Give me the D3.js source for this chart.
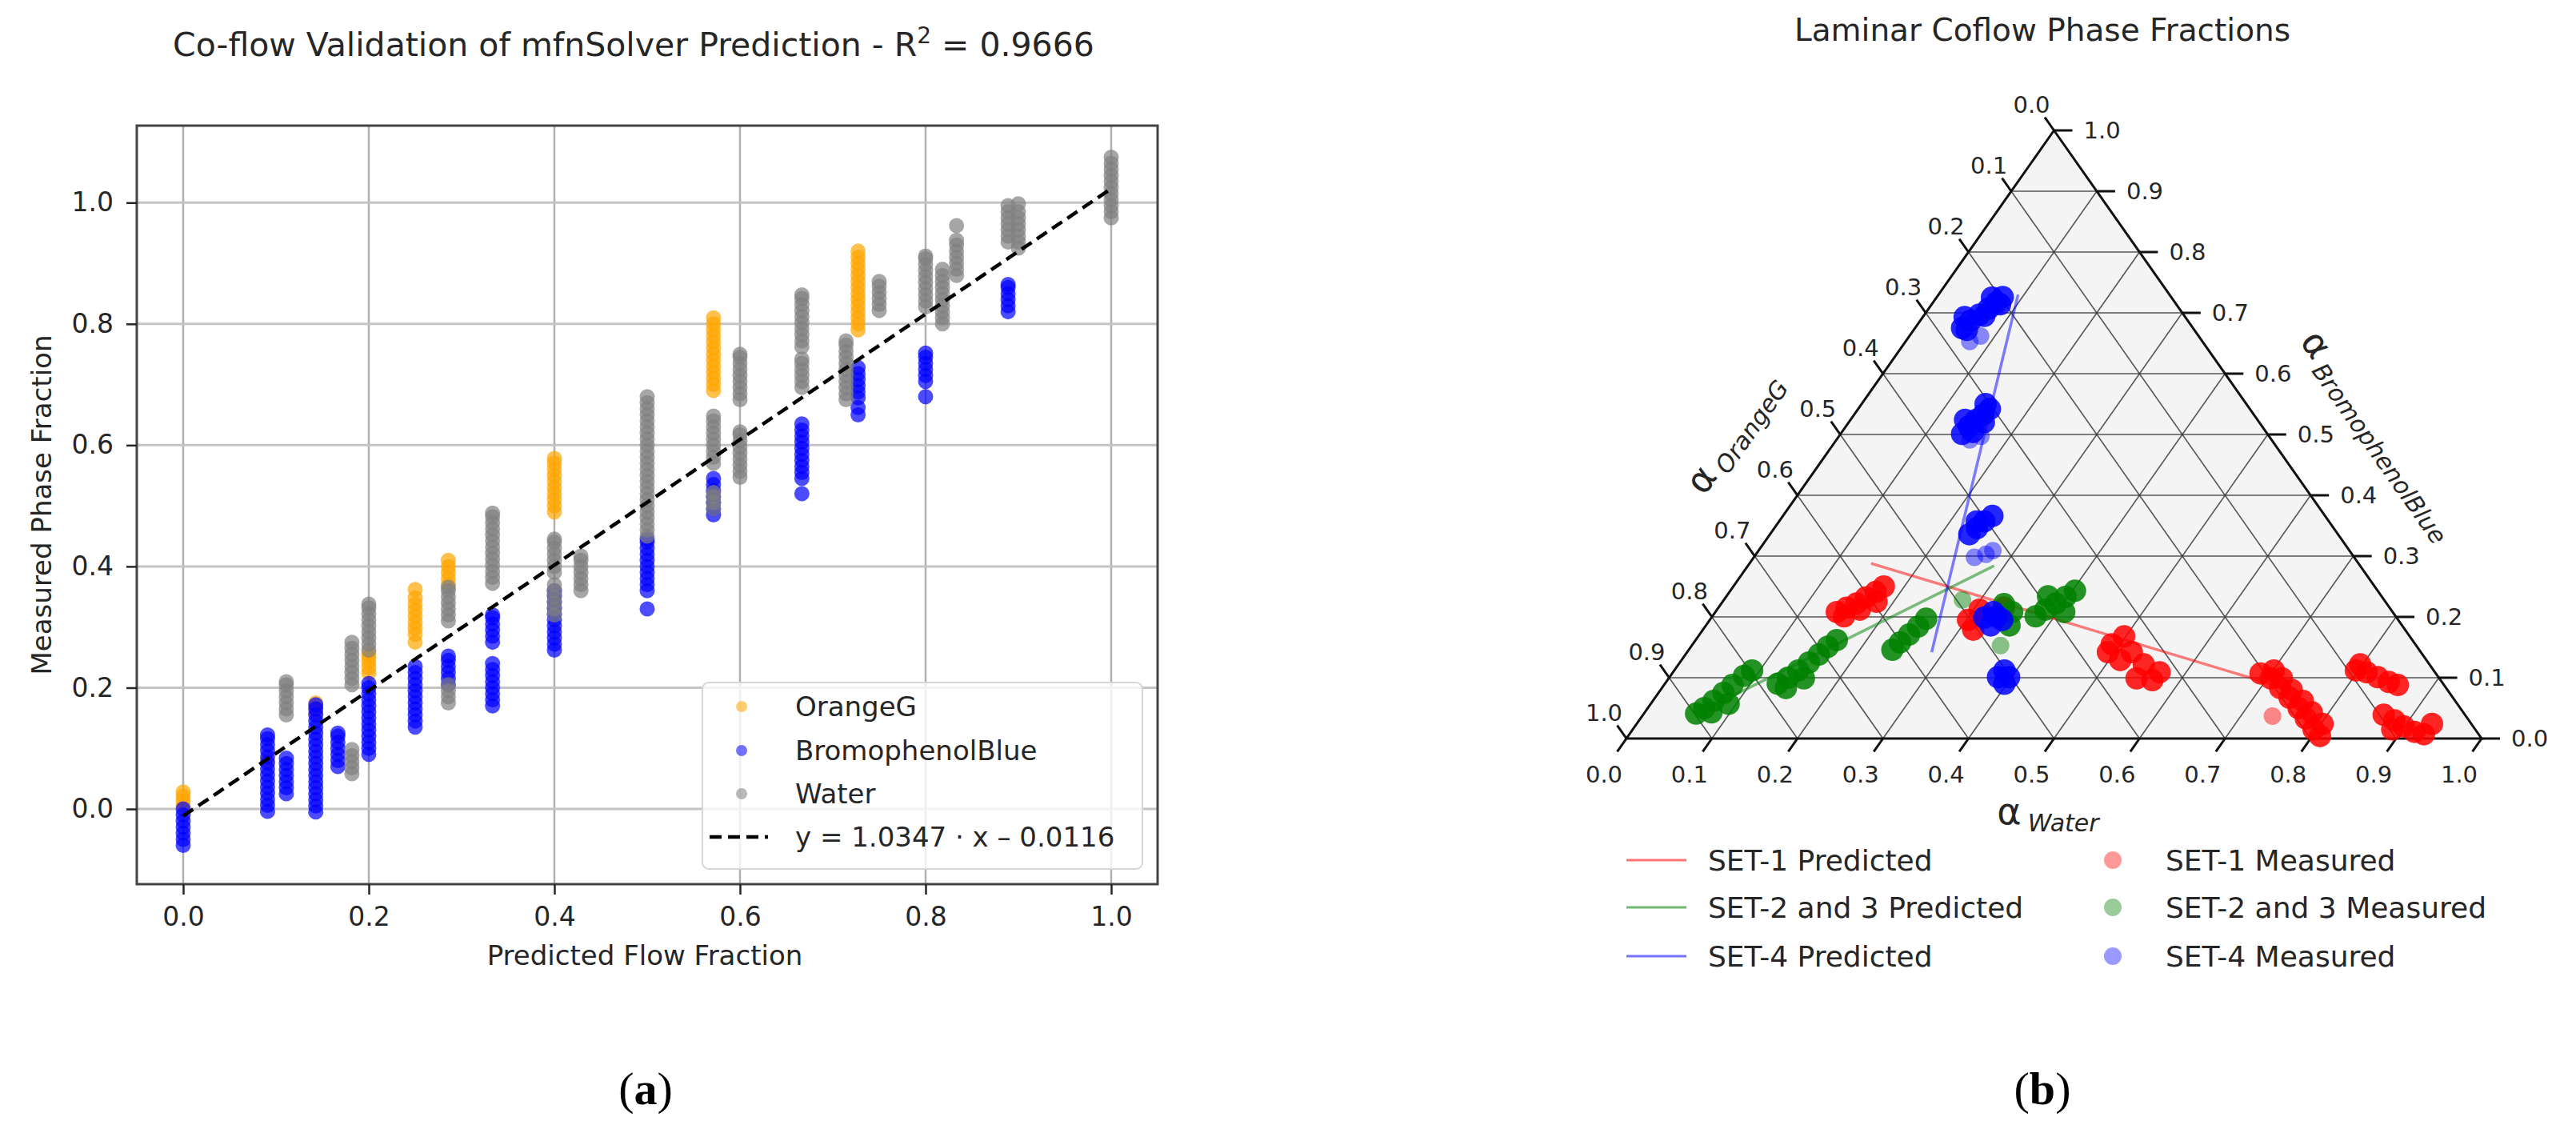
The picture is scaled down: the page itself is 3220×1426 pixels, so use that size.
<!DOCTYPE html>
<html>
<head>
<meta charset="utf-8">
<script src="https://cdn.jsdelivr.net/npm/d3@7"></script>
<style>
  body { margin: 0; background: #fff; }
  text { font-family: "DejaVu Sans", sans-serif; fill: #262626; }
</style>
</head>
<body>
<script>
// ---------- panel (a): measured vs predicted, one entry per predicted flow fraction ----------
// [predicted fraction, [measured phase fractions]]
var orangeG = [
  [0, [0.005, 0.013, 0.021, 0.028]],
  [1 / 11, [0.08]],
  [1 / 7, [0.158, 0.166, 0.175]],
  [0.2, [0.224, 0.233, 0.242, 0.25, 0.256]],
  [0.25, [0.275, 0.288, 0.298, 0.308, 0.318, 0.328, 0.338, 0.348, 0.362]],
  [2 / 7, [0.37, 0.38, 0.39, 0.40, 0.41]],
  [0.4, [0.49, 0.5, 0.51, 0.52, 0.53, 0.54, 0.55, 0.56, 0.57, 0.578]],
  [4 / 7, [0.69, 0.70, 0.71, 0.72, 0.73, 0.74, 0.75, 0.76, 0.77, 0.78, 0.79, 0.80, 0.81]],
  [8 / 11, [0.79, 0.80, 0.81, 0.82, 0.83, 0.84, 0.85, 0.86, 0.87, 0.88, 0.89, 0.90, 0.91, 0.92]]
];
var bromophenolBlue = [
  [0, [0.0, -0.01, -0.02, -0.03, -0.04, -0.05, -0.06]],
  [1 / 11, [-0.004, 0.006, 0.016, 0.026, 0.036, 0.046, 0.056, 0.066, 0.076, 0.086, 0.096, 0.106, 0.116, 0.122]],
  [1 / 9, [0.025, 0.035, 0.045, 0.055, 0.065, 0.075, 0.084]],
  [1 / 7, [-0.005, 0.005, 0.015, 0.025, 0.035, 0.045, 0.055, 0.065, 0.075, 0.085, 0.095, 0.105, 0.115,
           0.125, 0.135, 0.145, 0.155, 0.165, 0.172]],
  [1 / 6, [0.07, 0.08, 0.09, 0.1, 0.11, 0.12, 0.125]],
  [0.2, [0.09, 0.1, 0.11, 0.12, 0.13, 0.14, 0.15, 0.16, 0.17, 0.18, 0.19, 0.2, 0.207]],
  [0.25, [0.135, 0.145, 0.155, 0.165, 0.175, 0.185, 0.195, 0.205, 0.215, 0.225, 0.235]],
  [2 / 7, [0.205, 0.215, 0.225, 0.235, 0.245, 0.252]],
  [1 / 3, [0.275, 0.285, 0.295, 0.305, 0.315, 0.32, 0.17, 0.18, 0.19, 0.2, 0.21, 0.22, 0.23, 0.24]],
  [0.4, [0.262, 0.272, 0.282, 0.292, 0.302, 0.312, 0.322, 0.332, 0.342, 0.352, 0.36]],
  [0.5, [0.36, 0.37, 0.38, 0.39, 0.40, 0.41, 0.42, 0.43, 0.44, 0.445, 0.33]],
  [4 / 7, [0.485, 0.495, 0.505, 0.515, 0.525, 0.535, 0.545]],
  [2 / 3, [0.545, 0.555, 0.565, 0.575, 0.585, 0.595, 0.605, 0.615, 0.625, 0.635, 0.52]],
  [8 / 11, [0.678, 0.688, 0.698, 0.708, 0.718, 0.728, 0.662, 0.65]],
  [0.8, [0.705, 0.715, 0.725, 0.735, 0.745, 0.752, 0.68]],
  [8 / 9, [0.82, 0.83, 0.84, 0.85, 0.86, 0.865]]
];
var water = [
  [1 / 9, [0.155, 0.165, 0.175, 0.185, 0.195, 0.205, 0.21]],
  [2 / 11, [0.205, 0.215, 0.225, 0.235, 0.245, 0.255, 0.265, 0.275, 0.058, 0.068, 0.078, 0.088, 0.098]],
  [0.2, [0.262, 0.272, 0.282, 0.292, 0.302, 0.312, 0.322, 0.332, 0.338]],
  [2 / 7, [0.31, 0.32, 0.33, 0.34, 0.35, 0.36, 0.366, 0.175, 0.185, 0.195, 0.205]],
  [1 / 3, [0.372, 0.382, 0.392, 0.402, 0.412, 0.422, 0.432, 0.442, 0.452, 0.462, 0.472, 0.482, 0.488]],
  [0.4, [0.32, 0.33, 0.34, 0.35, 0.36, 0.37, 0.39, 0.40, 0.41, 0.42, 0.43, 0.44, 0.445]],
  [3 / 7, [0.36, 0.37, 0.38, 0.39, 0.40, 0.41, 0.417]],
  [0.5, [0.45, 0.46, 0.47, 0.48, 0.49, 0.50, 0.51, 0.52, 0.53, 0.54, 0.55, 0.56, 0.57, 0.58, 0.59,
         0.60, 0.61, 0.62, 0.63, 0.64, 0.65, 0.66, 0.67, 0.68]],
  [4 / 7, [0.57, 0.58, 0.59, 0.60, 0.61, 0.62, 0.63, 0.64, 0.648, 0.495, 0.505, 0.515, 0.522]],
  [0.6, [0.675, 0.685, 0.695, 0.705, 0.715, 0.725, 0.735, 0.745, 0.75,
         0.547, 0.557, 0.567, 0.577, 0.587, 0.597, 0.607, 0.617, 0.622]],
  [2 / 3, [0.695, 0.705, 0.715, 0.725, 0.735, 0.742, 0.762, 0.772, 0.782, 0.792, 0.802, 0.812, 0.822,
           0.832, 0.842, 0.848]],
  [5 / 7, [0.675, 0.685, 0.695, 0.705, 0.715, 0.725, 0.735, 0.745, 0.755, 0.765, 0.772]],
  [0.75, [0.822, 0.832, 0.842, 0.852, 0.862, 0.87]],
  [0.8, [0.828, 0.838, 0.848, 0.858, 0.868, 0.878, 0.888, 0.898, 0.908, 0.912]],
  [9 / 11, [0.8, 0.81, 0.82, 0.83, 0.84, 0.85, 0.86, 0.87, 0.88, 0.89]],
  [5 / 6, [0.88, 0.89, 0.90, 0.91, 0.92, 0.93, 0.938, 0.962]],
  [8 / 9, [0.935, 0.945, 0.955, 0.965, 0.975, 0.985, 0.995]],
  [0.9, [0.925, 0.935, 0.945, 0.955, 0.965, 0.975, 0.985, 0.998]],
  [1, [0.975, 0.985, 0.995, 1.005, 1.015, 1.025, 1.035, 1.045, 1.055, 1.065, 1.075]]
];
var seriesNames = ["OrangeG", "BromophenolBlue", "Water"];
var fitSlope = 1.0347, fitIntercept = -0.0116, fitRange = [0, 1];
var xTicks = [0, 0.2, 0.4, 0.6, 0.8, 1.0];
var yTicks = [0, 0.2, 0.4, 0.6, 0.8, 1.0];

// ---------- panel (b): ternary, points as [alpha Water, alpha BromophenolBlue] ----------
var set1Predicted = [[0.142, 0.288], [0.728, 0.083]];
var set23Predicted = [[0.064, 0.043], [0.288, 0.284]];
var set4Predicted = [[0.286, 0.142], [0.093, 0.730]];
var set1Measured = [
  [0.142, 0.208], [0.150, 0.215], [0.158, 0.222], [0.164, 0.232], [0.171, 0.241], [0.176, 0.25],
  [0.154, 0.201], [0.167, 0.212], [0.180, 0.225],
  [0.302, 0.195], [0.316, 0.179], [0.307, 0.212], [0.334, 0.215],
  [0.490, 0.155], [0.498, 0.168], [0.520, 0.142], [0.513, 0.129], [0.544, 0.122], [0.567, 0.096],
  [0.569, 0.109], [0.547, 0.099], [0.492, 0.142],
  [0.688, 0.107], [0.704, 0.099], [0.723, 0.083], [0.742, 0.067], [0.761, 0.05], [0.778, 0.033],
  [0.796, 0.015], [0.809, 0.004], [0.701, 0.112],
  [0.717, 0.099], [0.738, 0.080], [0.760, 0.062], [0.780, 0.043], [0.802, 0.024],
  [0.797, 0.112], [0.811, 0.109], [0.828, 0.101], [0.845, 0.093], [0.858, 0.088], [0.797, 0.122],
  [0.866, 0.039], [0.883, 0.030], [0.899, 0.020], [0.916, 0.011], [0.929, 0.007], [0.888, 0.015], [0.930, 0.024]
];
var set1Outliers = [[0.737, 0.037]];
var set23Measured = [
  [0.061, 0.041], [0.066, 0.05], [0.071, 0.062], [0.076, 0.075], [0.080, 0.088], [0.086, 0.103],
  [0.091, 0.112], [0.078, 0.043], [0.091, 0.057],
  [0.132, 0.090], [0.139, 0.1], [0.145, 0.112], [0.151, 0.125], [0.156, 0.138], [0.160, 0.151],
  [0.165, 0.162], [0.145, 0.083], [0.158, 0.099],
  [0.238, 0.146], [0.241, 0.158], [0.245, 0.171], [0.249, 0.184], [0.252, 0.197],
  [0.347, 0.208], [0.355, 0.186], [0.331, 0.221],
  [0.378, 0.201], [0.384, 0.212], [0.391, 0.222], [0.397, 0.233], [0.403, 0.243], [0.376, 0.234], [0.408, 0.208]
];
var set23Outliers = [[0.279, 0.228], [0.361, 0.153]];
var set4Measured = [
  [0.055, 0.675], [0.059, 0.687], [0.064, 0.697], [0.070, 0.707], [0.074, 0.717], [0.077, 0.726],
  [0.062, 0.672], [0.071, 0.695], [0.080, 0.714], [0.049, 0.693], [0.065, 0.725],
  [0.142, 0.501], [0.144, 0.513], [0.147, 0.524], [0.151, 0.533], [0.154, 0.542], [0.153, 0.504],
  [0.158, 0.520], [0.134, 0.524], [0.145, 0.55],
  [0.233, 0.336], [0.237, 0.346], [0.240, 0.357], [0.245, 0.366], [0.231, 0.357],
  [0.319, 0.199], [0.325, 0.208], [0.342, 0.195], [0.333, 0.186], [0.333, 0.201],
  [0.384, 0.101], [0.397, 0.101], [0.386, 0.112], [0.397, 0.090]
];
var set4Outliers = [[0.075, 0.653], [0.083, 0.662], [0.156, 0.491], [0.166, 0.497],
  [0.258, 0.298], [0.269, 0.303], [0.274, 0.309]];
var ternTicks = [0, 0.1, 0.2, 0.3, 0.4, 0.5, 0.6, 0.7, 0.8, 0.9, 1.0];
var legendLabelsB = ["SET-1 Predicted", "SET-2 and 3 Predicted", "SET-4 Predicted",
                     "SET-1 Measured", "SET-2 and 3 Measured", "SET-4 Measured"];

var svg = d3.select("body").append("svg").attr("width", 3220).attr("height", 1426);
var fmt = d3.format(".1f");

function flat(arr) {
  var out = [];
  arr.forEach(function(c) {
    c[1].forEach(function(v) { out.push([c[0], v]); });
  });
  return out;
}

// ===================== panel (a) =====================
var box = { left: 171, right: 1447, top: 157, bottom: 1105 };
var x = d3.scaleLinear().domain([-0.05, 1.05]).range([box.left, box.right]);
var y = d3.scaleLinear().domain([-0.124, 1.127]).range([box.bottom, box.top]);
var colorsA = ["#ffa500", "#0000ff", "#808080"];
var gA = svg.append("g");

// grid
gA.selectAll(".vgrid").data(xTicks).enter().append("line")
  .attr("x1", function(d) { return x(d); }).attr("x2", function(d) { return x(d); })
  .attr("y1", box.top).attr("y2", box.bottom)
  .attr("stroke", "#b0b0b0").attr("stroke-width", 2.5);
gA.selectAll(".hgrid").data(yTicks).enter().append("line")
  .attr("y1", function(d) { return y(d); }).attr("y2", function(d) { return y(d); })
  .attr("x1", box.left).attr("x2", box.right)
  .attr("stroke", "#c4c4c4").attr("stroke-width", 3);

// scatter
[orangeG, bromophenolBlue, water].forEach(function(s, i) {
  gA.append("g").selectAll("circle").data(flat(s)).enter().append("circle")
    .attr("cx", function(d) { return x(d[0]); })
    .attr("cy", function(d) { return y(d[1]); })
    .attr("r", 9.5)
    .attr("fill", colorsA[i])
    .attr("fill-opacity", 0.7);
});

// fit line
gA.append("line")
  .attr("x1", x(fitRange[0])).attr("y1", y(fitSlope * fitRange[0] + fitIntercept))
  .attr("x2", x(fitRange[1])).attr("y2", y(fitSlope * fitRange[1] + fitIntercept))
  .attr("stroke", "#000").attr("stroke-width", 4.5).attr("stroke-dasharray", "15,8");

// frame
gA.append("rect")
  .attr("x", box.left).attr("y", box.top)
  .attr("width", box.right - box.left).attr("height", box.bottom - box.top)
  .attr("fill", "none").attr("stroke", "#444").attr("stroke-width", 3);

// axes
var xAxis = gA.append("g").attr("transform", "translate(0," + box.bottom + ")")
  .call(d3.axisBottom(x).tickValues(xTicks).tickFormat(fmt).tickSize(13).tickSizeOuter(0).tickPadding(16));
var yAxis = gA.append("g").attr("transform", "translate(" + box.left + ",0)")
  .call(d3.axisLeft(y).tickValues(yTicks).tickFormat(fmt).tickSize(13).tickSizeOuter(0).tickPadding(16));
[xAxis, yAxis].forEach(function(a) {
  a.select(".domain").remove();
  a.attr("font-size", 33).attr("font-family", "DejaVu Sans").attr("color", "#262626");
  a.selectAll(".tick line").attr("stroke-width", 2.5);
});

gA.append("text").attr("x", 806).attr("y", 1206).attr("text-anchor", "middle")
  .attr("font-size", 34).text("Predicted Flow Fraction");
gA.append("text").attr("transform", "translate(64,631) rotate(-90)").attr("text-anchor", "middle")
  .attr("font-size", 34).text("Measured Phase Fraction");

var titleA = gA.append("text").attr("x", 792).attr("y", 70).attr("text-anchor", "middle").attr("font-size", 41);
titleA.append("tspan").text("Co-flow Validation of mfnSolver Prediction - R");
titleA.append("tspan").attr("font-size", 28).attr("dy", -16).text("2");
titleA.append("tspan").attr("dy", 16).text(" = 0.9666");

// legend (a)
var legA = gA.append("g");
legA.append("rect").attr("x", 878).attr("y", 853).attr("width", 550).attr("height", 233).attr("rx", 8)
  .attr("fill", "#fff").attr("fill-opacity", 0.8).attr("stroke", "#d5d5d5").attr("stroke-width", 2);
var legRowsA = [883, 938, 992, 1046];
seriesNames.forEach(function(n, i) {
  legA.append("circle").attr("cx", 927).attr("cy", legRowsA[i]).attr("r", 7)
    .attr("fill", colorsA[i]).attr("fill-opacity", 0.55);
  legA.append("text").attr("x", 994).attr("y", legRowsA[i] + 12).attr("font-size", 34).text(n);
});
legA.append("line").attr("x1", 887).attr("x2", 960).attr("y1", legRowsA[3]).attr("y2", legRowsA[3])
  .attr("stroke", "#000").attr("stroke-width", 4.5).attr("stroke-dasharray", "15,8");
legA.append("text").attr("x", 994).attr("y", legRowsA[3] + 12).attr("font-size", 34)
  .text("y = " + fitSlope + " \u00b7 x \u2013 " + Math.abs(fitIntercept));

// ===================== panel (b) =====================
var tx = d3.scaleLinear().domain([0, 1]).range([2033, 3102]);
var ty = d3.scaleLinear().domain([0, 1]).range([923, 163]);
function proj(p) { return [tx(p[0] + p[1] / 2), ty(p[1])]; }
var line = d3.line();
var gB = svg.append("g");

// triangle background
var corners = [[0, 0], [1, 0], [0, 1]];
gB.append("path").attr("d", line(corners.map(proj)) + "Z").attr("fill", "#f4f4f4");

// grid lines every 0.1 in the three directions
var inner = ternTicks.slice(1, -1);
var gridSegs = [];
inner.forEach(function(t) {
  gridSegs.push([[0, t], [1 - t, t]]);       // constant BromophenolBlue
  gridSegs.push([[t, 0], [t, 1 - t]]);       // constant Water
  gridSegs.push([[1 - t, 0], [0, 1 - t]]);   // constant OrangeG
});
gB.append("g").selectAll("path").data(gridSegs).enter().append("path")
  .attr("d", function(d) { return line(d.map(proj)); })
  .attr("stroke", "#3a3a3a").attr("stroke-opacity", 0.85).attr("stroke-width", 1.6).attr("fill", "none");

// border
gB.append("path").attr("d", line(corners.map(proj)) + "Z")
  .attr("fill", "none").attr("stroke", "#111").attr("stroke-width", 3);

// ticks + tick labels
var gT = gB.append("g").attr("font-size", 29);
ternTicks.forEach(function(t) {
  var pb = proj([t, 0]);          // bottom: Water
  gT.append("line").attr("x1", pb[0]).attr("y1", pb[1]).attr("x2", pb[0] - 11.5).attr("y2", pb[1] + 16.4)
    .attr("stroke", "#111").attr("stroke-width", 3);
  gT.append("text").attr("x", pb[0] - 28).attr("y", pb[1] + 45).attr("dy", "0.35em")
    .attr("text-anchor", "middle").text(fmt(t));
  var pr = proj([1 - t, t]);      // right: BromophenolBlue
  gT.append("line").attr("x1", pr[0]).attr("y1", pr[1]).attr("x2", pr[0] + 23).attr("y2", pr[1])
    .attr("stroke", "#111").attr("stroke-width", 3);
  gT.append("text").attr("x", pr[0] + 37).attr("y", pr[1]).attr("dy", "0.35em").text(fmt(t));
  var pl = proj([0, 1 - t]);      // left: OrangeG
  gT.append("line").attr("x1", pl[0]).attr("y1", pl[1]).attr("x2", pl[0] - 11.5).attr("y2", pl[1] - 16.4)
    .attr("stroke", "#111").attr("stroke-width", 3);
  gT.append("text").attr("x", pl[0] - 28).attr("y", pl[1] - 32).attr("dy", "0.35em")
    .attr("text-anchor", "middle").text(fmt(t));
});

// axis labels
function alphaLabel(g, sub) {
  var t = g.append("text").attr("text-anchor", "middle");
  t.append("tspan").attr("font-size", 46).text("\u03b1");
  t.append("tspan").attr("font-size", 30).attr("font-style", "italic").attr("dx", 8).attr("dy", 9).text(sub);
  return t;
}
alphaLabel(gB.append("g").attr("transform", "translate(2560,1030)"), "Water");
alphaLabel(gB.append("g").attr("transform", "translate(2180,550) rotate(-54.9)"), "OrangeG");
alphaLabel(gB.append("g").attr("transform", "translate(2962,552) rotate(54.9)"), "BromophenolBlue");

gB.append("text").attr("x", 2553).attr("y", 51).attr("text-anchor", "middle").attr("font-size", 39)
  .text("Laminar Coflow Phase Fractions");

// predicted lines
var colorsB = ["#ff0000", "#008000", "#0000ff"];
[set1Predicted, set23Predicted, set4Predicted].forEach(function(s, i) {
  gB.append("path").attr("d", line(s.map(proj))).attr("fill", "none")
    .attr("stroke", colorsB[i]).attr("stroke-opacity", 0.5).attr("stroke-width", 3.5);
});
// measured points: dense clusters, then isolated points
[[set1Measured, set1Outliers], [set23Measured, set23Outliers], [set4Measured, set4Outliers]].forEach(function(s, i) {
  var g = gB.append("g").attr("fill", colorsB[i]);
  g.selectAll(".pt").data(s[0]).enter().append("circle")
    .attr("cx", function(d) { return proj(d)[0]; })
    .attr("cy", function(d) { return proj(d)[1]; })
    .attr("r", 14).attr("fill-opacity", 0.85);
  g.selectAll(".out").data(s[1]).enter().append("circle")
    .attr("cx", function(d) { return proj(d)[0]; })
    .attr("cy", function(d) { return proj(d)[1]; })
    .attr("r", 11).attr("fill-opacity", 0.45);
});

// legend (b)
var legRowsB = [1075, 1134, 1195];
var legB = gB.append("g").attr("font-size", 36);
legendLabelsB.forEach(function(lbl, i) {
  var row = legRowsB[i % 3], c = colorsB[i % 3];
  if (i < 3) {
    legB.append("line").attr("x1", 2033).attr("x2", 2108).attr("y1", row).attr("y2", row)
      .attr("stroke", c).attr("stroke-opacity", 0.55).attr("stroke-width", 3);
    legB.append("text").attr("x", 2135).attr("y", row + 13).text(lbl);
  } else {
    legB.append("circle").attr("cx", 2641).attr("cy", row).attr("r", 11)
      .attr("fill", c).attr("fill-opacity", 0.4);
    legB.append("text").attr("x", 2707).attr("y", row + 13).text(lbl);
  }
});

// sub-figure captions
[["a", 807], ["b", 2553]].forEach(function(c) {
  var t = svg.append("text").attr("x", c[1]).attr("y", 1380).attr("text-anchor", "middle")
    .attr("font-size", 58).style("font-family", "'Liberation Serif', serif").style("fill", "#000");
  t.append("tspan").text("(");
  t.append("tspan").attr("font-weight", "bold").text(c[0]);
  t.append("tspan").text(")");
});
</script>
</body>
</html>
